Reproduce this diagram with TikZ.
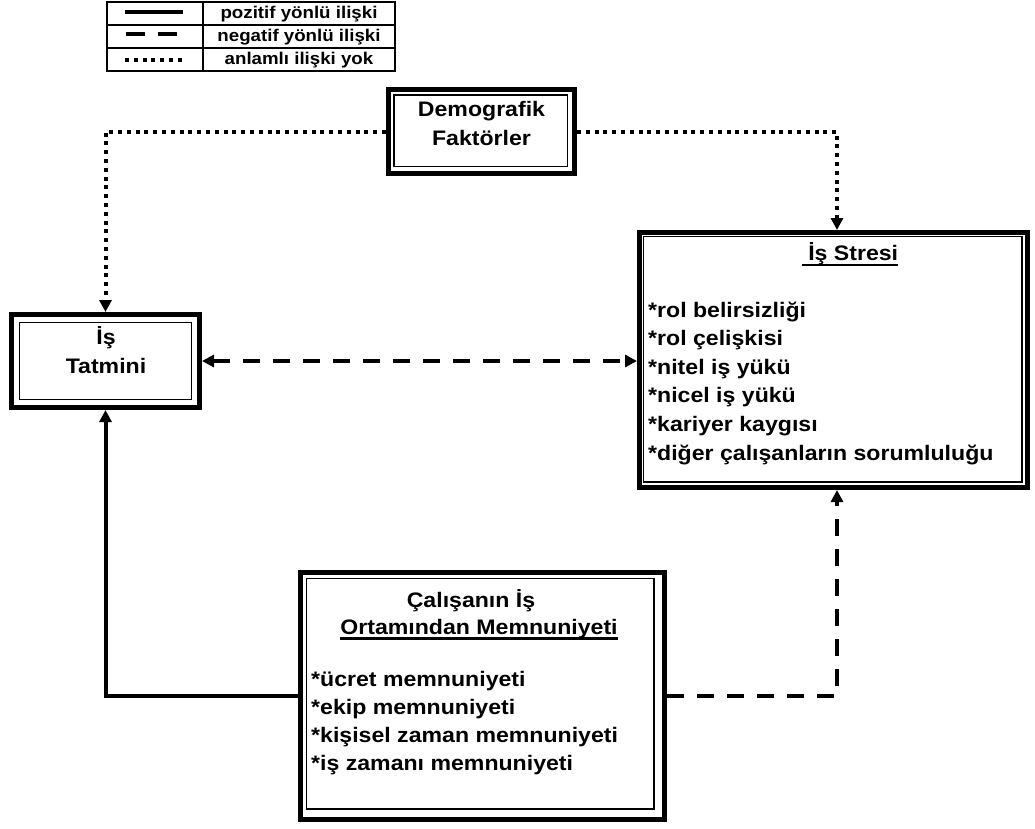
\documentclass[tikz,border=0pt]{standalone}
\usepackage{fontspec}
\setmainfont{Liberation Sans}[FakeStretch=1.1]
\usepackage{tikz}
\usetikzlibrary{arrows.meta,positioning}

\newcommand{\altcizgi}[1]{\sbox0{#1}\rlap{\rule[-5.5pt]{\wd0}{2.5pt}}\usebox0}

\begin{document}
\begin{tikzpicture}[x=1pt,y=-1pt,
  kutu/.style={draw,line width=5pt,inner sep=0pt},
  yazi/.style={font=\fontsize{21}{29}\selectfont\bfseries,inner sep=0pt,align=center},
  madde/.style={font=\fontsize{21}{28}\selectfont\bfseries,inner sep=0pt,anchor=base west},
  etiket/.style={font=\fontsize{17}{20}\selectfont\bfseries,inner sep=0pt,anchor=base},
  bag/.style={-{Triangle[length=12pt,width=12pt]}},
  ikibag/.style={{Triangle[length=12pt,width=12pt]}-{Triangle[length=12pt,width=12pt]}},
  pozitif/.style={line width=4pt},
  negatif/.style={line width=4pt,dash pattern=on 17pt off 13pt},
  yok/.style={line width=4pt,dash pattern=on 4pt off 4.8pt}]
\useasboundingbox (0,0) rectangle (1035,828);

% lejant
\draw[line width=2pt] (107,2) rectangle (395,71);
\draw[line width=1.5pt] (203,2) -- (203,71) (107,25) -- (395,25) (107,48) -- (395,48);
\draw[pozitif] (125,12) -- (183,12);
\draw[negatif,dash pattern=on 19pt off 13pt] (126,34) -- (178,34);
\draw[yok] (125,60) -- (183,60);
\node (lej1) [etiket] at (299,18) {pozitif yönlü ilişki};
\node (lej2) [etiket] at (299,41) {negatif yönlü ilişki};
\node (lej3) [etiket] at (299,64) {anlamlı ilişki yok};

% kutular
\node (demo) [kutu,minimum width=186pt,minimum height=84pt] at (481.5,131.5) {};
\node (stres) [kutu,minimum width=388pt,minimum height=255pt] at (833.5,360) {};
\node (tatmin) [kutu,minimum width=188pt,minimum height=93pt] at (105.5,361) {};
\node (calis) [kutu,minimum width=364pt,minimum height=247pt] at (482.5,696) {};
\foreach \n/\a/\b in {demo/8/9.5,stres/6.5/8,tatmin/10.5/10.5,calis/8.5/13}
  \draw[line width=1.5pt] ([shift={(\a,\a)}]\n.north west) rectangle ([shift={(-\b,-\b)}]\n.south east);

% yazilar
\node (demoyazi) [yazi] at (481.5,123.5) {Demografik\\Faktörler};
\node (tatminyazi) [yazi] at (106,350) {İş\\Tatmini};
\node (stresbaslik) [yazi,anchor=base] at (850,260.5) {\altcizgi{\ İş Stresi}};
\foreach \m [count=\i from 0] in {*rol belirsizliği,*rol çelişkisi,*nitel iş yükü,*nicel iş yükü,*kariyer kaygısı,*diğer çalışanların sorumluluğu}
  \node (smadde\i) [madde] at (648,317+28.6*\i) {\m};
\node (calisbaslik1) [yazi,anchor=base] at (471,607) {Çalışanın İş};
\node (calisbaslik2) [yazi,anchor=base] at (479,634) {\altcizgi{Ortamından Memnuniyeti}};
\foreach \m [count=\i from 0] in {*ücret memnuniyeti,*ekip memnuniyeti,*kişisel zaman memnuniyeti,*iş zamanı memnuniyeti}
  \node (cmadde\i) [madde] at (311,686+28*\i) {\m};

% baglantilar
\draw[bag,yok] (demo.west) -| (tatmin.north);
\draw[bag,yok] (demo.east) -| ([xshift=3.5pt]stres.north);
\draw[ikibag,negatif] (tatmin.east) -- (tatmin.east -| stres.west);
\draw[bag,pozitif] (calis.west) -| (tatmin.south);
\draw[bag,negatif] (calis.east) -| ([xshift=3.5pt]stres.south);
\end{tikzpicture}
\end{document}
